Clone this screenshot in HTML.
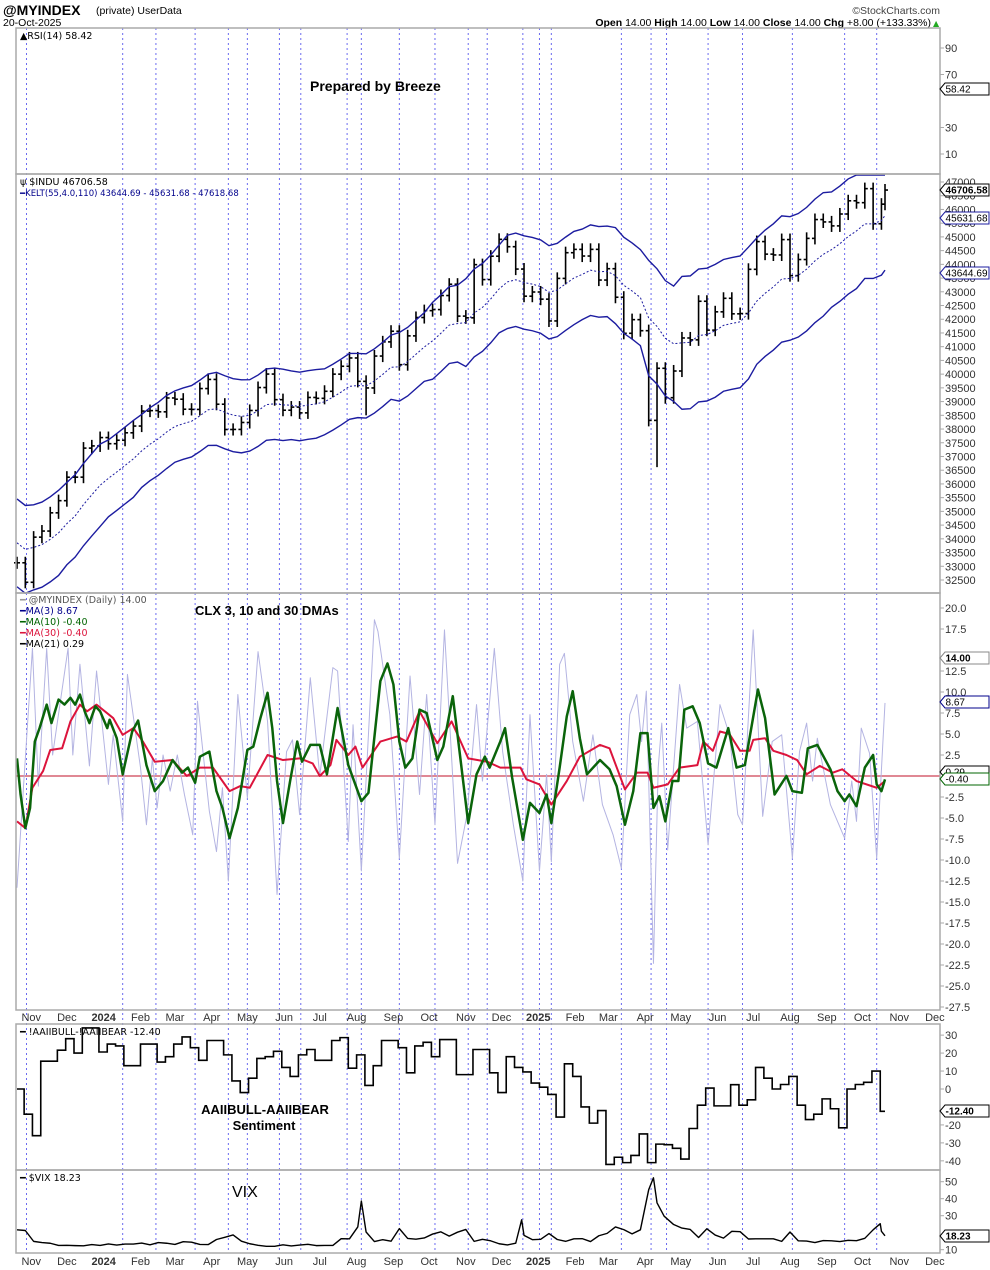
<!DOCTYPE html>
<html><head><meta charset="utf-8"><style>
html,body{margin:0;padding:0;background:#fff;}
svg{display:block;font-family:"DejaVu Sans","Liberation Sans",sans-serif;}
.ax{font-family:"Liberation Sans",sans-serif;font-size:11px;fill:#333;}
.tg{font-family:"Liberation Sans",sans-serif;font-size:10px;fill:#000;}
.lg{font-size:9.5px;}
</style></head><body>
<svg id="chart" width="990" height="1270" viewBox="0 0 990 1270" xmlns="http://www.w3.org/2000/svg">
<rect width="990" height="1270" fill="#fff"/>
<g>
<text x="3" y="15" font-family="Liberation Sans,sans-serif" font-size="14" font-weight="bold">@MYINDEX</text>
<text x="96" y="14" font-family="Liberation Sans,sans-serif" font-size="10.5">(private)  UserData</text>
<text x="3" y="26" font-family="Liberation Sans,sans-serif" font-size="10.5">20-Oct-2025</text>
<text x="940" y="14" text-anchor="end" font-family="Liberation Sans,sans-serif" font-size="10.5" fill="#444">©StockCharts.com</text>
<text x="931" y="26" text-anchor="end" font-family="Liberation Sans,sans-serif" font-size="10.5"><tspan font-weight="bold">Open</tspan> 14.00 <tspan font-weight="bold">High</tspan> 14.00 <tspan font-weight="bold">Low</tspan> 14.00 <tspan font-weight="bold">Close</tspan> 14.00 <tspan font-weight="bold">Chg</tspan> +8.00 (+133.33%)</text>
<text x="933" y="26" font-size="8" fill="#2a2">▲</text>
</g>
<g id="grid"></g>
<g id="marks"></g>
<g id="frames" fill="none" stroke="#aaa" stroke-width="1.5">
<rect x="16" y="28" width="924" height="146"/>
<rect x="16" y="174" width="924" height="419"/>
<rect x="16" y="593" width="924" height="417"/>
<rect x="16" y="1024" width="924" height="146"/>
<rect x="16" y="1170" width="924" height="83"/>
</g>
<g id="labels"></g>
<g font-family="Liberation Sans,sans-serif" font-weight="bold">
<text x="310" y="91" font-size="14">Prepared by Breeze</text>
<text x="195" y="615" font-size="13">CLX 3, 10 and 30 DMAs</text>
<text x="265" y="1114" font-size="13" text-anchor="middle">AAIIBULL-AAIIBEAR</text>
<text x="264" y="1130" font-size="13" text-anchor="middle">Sentiment</text>
<text x="232" y="1197" font-size="16" font-weight="normal">VIX</text>
</g>
<g class="lg">
<text x="20" y="39">▲RSI(14) 58.42</text>
<text x="20" y="185">ψ $INDU 46706.58</text>
<text x="20" y="196" font-size="8.5" fill="#00008b">━KELT(55,4.0,110) 43644.69 - 45631.68 - 47618.68</text>
<text x="20" y="603" fill="#555"><tspan fill="#999">━</tspan> @MYINDEX (Daily) 14.00</text>
<text x="20" y="614" fill="#00008b">━MA(3) 8.67</text>
<text x="20" y="625" fill="#006400">━MA(10) -0.40</text>
<text x="20" y="636" fill="#dc143c">━MA(30) -0.40</text>
<text x="20" y="647" fill="#000">━MA(21) 0.29</text>
<text x="20" y="1035">━ !AAIIBULL-!AAIIBEAR -12.40</text>
<text x="20" y="1181">━ $VIX 18.23</text>
</g>
<g id="tags"></g>
</svg>
<script>
// ---------- data ----------
const startDate = Date.UTC(2023, 9, 20);
const totalDays = 731;
const eventDays = [8,89,117,150,178,194,221,239,278,290,322,352,380,396,426,440,450,509,534,547,582,611,653,697,724];
const monthLabels = ["Nov","Dec","2024","Feb","Mar","Apr","May","Jun","Jul","Aug","Sep","Oct","Nov","Dec","2025","Feb","Mar","Apr","May","Jun","Jul","Aug","Sep","Oct","Nov","Dec"];
const monthStarts = ["2023-11-01","2023-12-01","2024-01-01","2024-02-01","2024-03-01","2024-04-01","2024-05-01","2024-06-01","2024-07-01","2024-08-01","2024-09-01","2024-10-01","2024-11-01","2024-12-01","2025-01-01","2025-02-01","2025-03-01","2025-04-01","2025-05-01","2025-06-01","2025-07-01","2025-08-01","2025-09-01","2025-10-01","2025-11-01","2025-12-01"];

const rsiTicks = [90,70,30,10];
const induTicks = [47000,46500,46000,45500,45000,44500,44000,43500,43000,42500,42000,41500,41000,40500,40000,39500,39000,38500,38000,37500,37000,36500,36000,35500,35000,34500,34000,33500,33000,32500];
const induWeeklyClose = [33127,32417,34061,34283,34947,35390,36245,36247,37305,37385,37689,
37466,37592,37863,38109,38654,38671,38627,39131,39087,38722,38714,39475,39807,38904,37983,37986,38239,38676,39512,40003,39070,38686,38799,38589,39150,39119,39375,40000,40287,40589,39737,39497,40659,41175,41563,40345,41394,42063,42313,42352,42864,43276,42114,42052,43989,43445,44297,44911,44643,43828,42840,42992,
42732,41938,43488,44424,44545,44303,44546,43428,43841,42802,41488,41985,41583,38315,40213,39142,40114,41317,41249,42655,41603,42270,42763,42197,42207,43819,44829,44372,44342,44902,43589,44176,44946,45632,45545,45401,45834,46315,46247,46758,45479,46191,46707];
const induLowWeek = [42, 77];
const induLowValue = [38499, 36612];
const keltHalfWidth = [1600,1550,1500,1400,1330,1300,1330,1300,1250,1200,1170,1250,1400,1600,1700,1700,1650,1750,2100,2420,2400,2300,2250,2100,1990];

const myTicks = [20,17.5,12.5,10,7.5,5,2.5,-2.5,-5,-7.5,-10,-12.5,-15,-17.5,-20,-22.5,-25,-27.5];
const rawDay = [0,13,18,25,30,43,47,53,61,67,77,81,89,93,104,109,114,118,123,129,135,141,148,152,162,168,173,178,186,194,203,211,219,227,232,238,247,255,266,270,279,283,290,301,304,314,322,331,339,345,352,360,371,379,387,392,402,409,418,426,432,440,446,450,457,461,468,477,485,493,502,509,516,522,526,530,536,540,543,548,558,564,573,582,592,600,607,611,620,628,636,644,653,659,665,670,674,685,697,703,707,711,718,724,731];
const rawVal = [-13.3,15.2,-1.2,15.2,2.5,15.2,2.5,13.3,1.2,12.5,-1,4.9,-5.4,12.1,1,-5.8,2.1,-3.8,2.5,-1.8,2.5,-2.2,-7,8.9,-4.2,-9,-1.4,-12.5,9.7,-2.6,14.8,6.5,-14.1,2.9,4.3,-4.6,11.7,0,12.9,12.5,-7.8,6.1,-11.3,18.6,17.2,7.3,-9.8,11.9,-2.2,9.7,-5.8,17.4,-10.4,-4.6,8.5,-0.6,15.2,2.9,-5.8,-12.5,7.3,-11.3,0.2,-10.2,13.3,14.6,4.1,-3,4.9,-3.4,-7,-11,7.3,9.7,4.1,10.1,-22.3,1,6.3,-8.8,10.9,5.7,6.5,-8.2,8.5,4.9,-4.6,-5.8,17.4,-4.8,4.1,4.9,-9.8,2.9,6.3,-0.6,4.5,-3.4,-7.4,-0.6,-5.4,5.7,2.7,-9.8,8.7];
const ma10Day = [0,3,7,11,15,19,25,29,35,40,45,49,53,57,61,66,70,76,78,84,89,97,102,109,116,123,131,139,144,150,154,162,168,173,179,186,194,199,205,211,215,219,224,230,236,240,247,255,261,270,279,290,296,306,312,317,322,327,333,339,345,354,359,367,371,380,387,394,398,407,411,417,426,432,440,446,450,457,463,468,474,480,491,499,505,512,519,525,531,536,541,546,552,557,562,569,575,582,589,599,606,613,624,630,638,648,653,661,666,674,685,691,697,701,707,714,721,724,728,731];
const ma10Val = [2.1,-2.2,-6.2,-3.8,4.1,5.7,8.5,6.3,9.1,8.5,9.3,8.5,9.7,7.7,6.3,8.3,7.7,5.7,6.7,4.5,0.2,5.3,6.6,1.3,-1.8,-0.6,1.9,0.4,1,-0.8,2.3,2.9,-1.8,-3.8,-7.4,-3.8,3.1,3.5,6.9,9.9,5.7,-0.6,-5.6,-0.6,4.1,1.7,3.7,3.7,0.2,8.1,1.3,-3,-2,11.3,13.4,10.9,4.1,1,2.1,7.9,7.5,1.9,3.5,9.5,4.9,-5.6,0.2,2.3,1,4.1,5.7,-0.2,-7.6,-3.2,-4.4,-2.2,-5.6,1,7.1,10.1,4.5,0.2,1.9,0.8,-1.2,-5.8,-1.8,5.1,5.1,-3.8,-2.4,-5.4,-0.6,-0.6,7.9,8.3,6.3,1.5,1,5.7,1,1.3,10.3,6.9,-2.2,0,-1.8,-2,3.3,3.7,0.8,-1.8,-3,-2.2,-3.6,1,2.5,-1,-1.8,-0.4];
const ma30Day = [0,7,13,22,28,38,45,53,59,67,81,89,98,106,116,131,143,154,165,179,188,196,211,224,238,249,255,264,269,279,285,291,306,320,328,339,354,366,380,396,407,424,429,440,450,463,474,491,499,512,522,531,536,548,558,573,578,586,592,600,609,617,620,630,637,648,657,665,676,687,695,707,724,731];
const ma30Val = [-5.4,-6.2,-1.4,0.6,3.1,3.3,6.5,8.5,7.7,8.5,6.9,4.9,5.7,4.1,1.7,1.9,0,1,1,-1.8,-1.2,-1.4,2.5,1.9,2.1,1.5,0,1.3,4.3,2.5,3.5,1,4.1,4.7,4.1,7.7,3.9,6.5,2.1,1.7,1,1,-0.4,-1,-3.4,-0.6,2.3,3.7,3.3,-1.6,0.4,0.4,-1.4,-1,1,1.3,4.1,3,5.3,5,3,3,4.3,4.5,3,2.5,1.9,0.2,1.2,0.4,0.8,-0.6,-1.4,-0.6];

const aaiiTicks = [30,20,10,0,-20,-30,-40];
const aaiiVal = [0,-14,-26,15.5,15.5,21.6,28,20,34,34,20.6,25,24,13,13,25,25,15,18,25,29,23,16,27,27,19,4.5,-2,6,17,18,21,12,7,19,22,16,16,27,28.6,11.6,19,2,13,27,27,23,9,24,26,18,27.5,27.5,8,8,22,22,9,-2,18,12,9.5,3.3,1,-3,-15.6,14,7,-10,-19,-12,-42,-38,-41,-37,-25,-41,-30.7,-31,-33,-39,-22,-9,0.5,-9.4,-9.4,2.4,-9,-6,12,6,0,2.5,7,-9,-17,-14,-5.5,-11,-21.6,0,2.5,3.7,10,-12.4];

const vixTicks = [50,40,30,10];
const vixDate = ["2023-10-20","2023-10-27","2023-11-03","2023-11-10","2023-11-17","2023-11-24","2023-12-01","2023-12-08","2023-12-15","2023-12-22","2023-12-29","2024-01-05","2024-01-12","2024-01-19","2024-01-26","2024-02-02","2024-02-09","2024-02-16","2024-02-23","2024-03-01","2024-03-08","2024-03-15","2024-03-22","2024-03-29","2024-04-05","2024-04-12","2024-04-19","2024-04-26","2024-05-03","2024-05-10","2024-05-17","2024-05-24","2024-05-31","2024-06-07","2024-06-14","2024-06-21","2024-06-28","2024-07-05","2024-07-12","2024-07-19","2024-07-26","2024-08-02","2024-08-05","2024-08-09","2024-08-16","2024-08-23","2024-08-30","2024-09-06","2024-09-13","2024-09-20","2024-09-27","2024-10-04","2024-10-11","2024-10-18","2024-10-25","2024-11-01","2024-11-08","2024-11-15","2024-11-22","2024-11-29","2024-12-06","2024-12-13","2024-12-18","2024-12-20","2024-12-27","2025-01-03","2025-01-10","2025-01-17","2025-01-24","2025-01-31","2025-02-07","2025-02-14","2025-02-21","2025-02-28","2025-03-07","2025-03-14","2025-03-21","2025-03-28","2025-04-04","2025-04-08","2025-04-11","2025-04-17","2025-04-25","2025-05-02","2025-05-09","2025-05-16","2025-05-23","2025-05-30","2025-06-06","2025-06-13","2025-06-20","2025-06-27","2025-07-03","2025-07-11","2025-07-18","2025-07-25","2025-08-01","2025-08-08","2025-08-15","2025-08-22","2025-08-29","2025-09-05","2025-09-12","2025-09-19","2025-09-26","2025-10-03","2025-10-10","2025-10-16","2025-10-17","2025-10-20"];
const vixVal = [21.7,21.3,14.9,14.2,13.8,12.5,12.6,12.4,12.3,13,12.5,13.4,12.7,13.3,13.3,13.9,12.9,14.2,13.8,13.1,14.7,14.4,13.1,13,16,17.3,18.7,15,13.5,12.6,12,12,12.9,12.2,12.7,13.2,12.4,12.5,12.5,16.5,16.4,23.4,38.6,20.4,14.8,15.9,15,22.4,16.6,16.2,16.9,19.2,20.5,18,20.3,21.9,14.9,16.1,15.2,13.5,12.8,13.8,27.6,18.4,15.9,16.1,19.5,16,14.9,16.4,16.5,14.8,18.2,19.6,23.4,21.8,19.3,21.7,45.3,52.3,37.6,29.7,24.8,22.7,21.9,17.2,22.3,18.6,16.8,20.8,20.6,16.3,16.4,16.4,16.4,14.9,20.4,15.2,15.1,14.2,15.4,15.2,14.8,15.5,15.3,16.7,21.7,25.3,20.8,18.2];

// ---------- scales ----------
const NS = "http://www.w3.org/2000/svg";
const xD = d => 17 + d * (868 / totalDays);
const dayOf = s => (Date.parse(s + "T00:00:00Z") - startDate) / 86400000;
const yR = v => 101 - (v - 50) * 1.325;
const yI = v => 182 + (47000 - v) * 398 / 14500;
const yM = v => 776 - v * 8.4;
const yA = v => 1089 - v * 1.796;
const yV = v => 1181.7 + (50 - v) * 1.7;
function mk(tag, attrs, parent) {
  const e = document.createElementNS(NS, tag);
  for (const k in attrs) e.setAttribute(k, attrs[k]);
  parent.appendChild(e);
  return e;
}
const grid = document.getElementById("grid");
const marks = document.getElementById("marks");
const labels = document.getElementById("labels");
const tags = document.getElementById("tags");

eventDays.forEach(d => {
  const l = mk("line", {x1: xD(d), x2: xD(d), y1: 28, y2: 1253, stroke: "#6b6bf0", "stroke-width": 1, "stroke-dasharray": "2,3"}, grid);
  
  
});
monthLabels.forEach((m, i) => {
  const x = xD(dayOf(monthStarts[i]));
  [1021, 1265].forEach(y => {
    const t = mk("text", {x: x, y: y, "text-anchor": "middle", class: "ax", "font-weight": /^\d/.test(m) ? "bold" : "normal"}, labels);
    t.textContent = m;
    
    
  });
});
function yLabels(ticks, fy, fmt) {
  ticks.forEach(v => {
    mk("line", {x1: 940, x2: 944, y1: fy(v), y2: fy(v), stroke: "#aaa"}, labels);
    const t = mk("text", {x: 945, y: fy(v) + 4, class: "ax"}, labels);
    t.textContent = fmt(v);
    
    
  });
}
yLabels(rsiTicks, yR, v => String(v));
yLabels(induTicks, yI, v => String(v));
yLabels(myTicks, yM, v => v.toFixed(1));
yLabels(aaiiTicks, yA, v => String(v));
yLabels(vixTicks, yV, v => String(v));

// ---------- INDU bars + Keltner ----------
let ema = 34000;
const midPts = [], upPts = [], loPts = [];
induWeeklyClose.forEach((c, k) => {
  const d = k < 105 ? k * 7 : totalDays;
  const x = xD(d);
  const o = k > 0 ? induWeeklyClose[k - 1] : c;
  let hi = Math.max(o, c) + 220, lo = Math.min(o, c) - 220;
  const li = induLowWeek.indexOf(k);
  if (li >= 0) lo = induLowValue[li];
  const g = mk("g", {stroke: "#000", "stroke-width": 1.6}, marks);
  
  
  mk("line", {x1: x, x2: x, y1: yI(hi), y2: yI(lo)}, g);
  mk("line", {x1: x - 3, x2: x, y1: yI(o), y2: yI(o)}, g);
  mk("line", {x1: x, x2: x + 3, y1: yI(c), y2: yI(c)}, g);
  ema = ema + (c - ema) * (2 / 12);
  const dt = new Date(startDate + d * 86400000);
  const mi = Math.min(keltHalfWidth.length - 1, (dt.getUTCFullYear() - 2023) * 12 + dt.getUTCMonth() - 9);
  const hw = keltHalfWidth[mi];
  midPts.push(x + "," + yI(ema));
  upPts.push(x + "," + Math.max(175, yI(ema + hw)));
  loPts.push(x + "," + yI(ema - hw));
});
[[upPts, "kelt-upper", ""], [midPts, "kelt-middle", "2,2"], [loPts, "kelt-lower", ""]].forEach(([p, n, dash]) => {
  const pl = mk("polyline", {points: p.join(" "), fill: "none", stroke: "#1c1ca0", "stroke-width": dash ? 1 : 1.4, "stroke-dasharray": dash}, marks);
  
  
});

// ---------- MYINDEX ----------
const zl = mk("line", {x1: 16, x2: 940, y1: yM(0), y2: yM(0), stroke: "#c0102a", "stroke-width": 1}, marks);


function line(days, vals, fy, attrs, name) {
  const pts = days.map((d, i) => xD(d) + "," + fy(vals[i])).join(" ");
  const pl = mk("polyline", Object.assign({points: pts, fill: "none", "stroke-linejoin": "round"}, attrs), marks);
  
  
}
line(rawDay, rawVal, yM, {stroke: "#b4b4e2", "stroke-width": 1}, "myindex-raw-line");
line(ma30Day, ma30Val, yM, {stroke: "#dc143c", "stroke-width": 2}, "ma30-line");
line(ma10Day, ma10Val, yM, {stroke: "#0a640a", "stroke-width": 2.5}, "ma10-line");

// ---------- AAII step ----------
{
  let p = [];
  aaiiVal.forEach((v, k) => {
    const x0 = xD(Math.max(0, k * 7 - 1));
    const x1 = xD(Math.min(totalDays, k * 7 + 6));
    const y = Math.max(1026, yA(v));
    p.push(x0 + "," + y, x1 + "," + y);
  });
  const pl = mk("polyline", {points: p.join(" "), fill: "none", stroke: "#000", "stroke-width": 1.6}, marks);
  
  
}
// ---------- VIX ----------
line(vixDate.map(dayOf), vixVal, yV, {stroke: "#000", "stroke-width": 1.4}, "vix-line");

// ---------- value tags ----------
function tag(y, text, color, bold, name) {
  const g = mk("g", {}, tags);
  
  
  mk("path", {d: `M940 ${y} L945 ${y-6} L989 ${y-6} L989 ${y+6} L945 ${y+6} Z`, fill: "#fff", stroke: color, "stroke-width": 1}, g);
  const t = mk("text", {x: 945.5, y: y + 3.5, class: "tg", "font-weight": bold ? "bold" : "normal", textLength: text.length > 6 ? 42 : null}, g);
  if (text.length <= 6) t.removeAttribute("textLength");
  t.textContent = text;
}
tag(89, "58.42", "#000", false, "rsi-value-tag");
tag(190, "46706.58", "#000", true, "indu-value-tag");
tag(218, "45631.68", "#1c1ca0", false, "kelt-mid-tag");
tag(273, "43644.69", "#1c1ca0", false, "kelt-lower-tag");
tag(658, "14.00", "#888", true, "myindex-value-tag");
tag(702, "8.67", "#00008b", false, "ma3-value-tag");
tag(772, "0.29", "#000", false, "ma21-value-tag");
tag(779, "-0.40", "#006400", false, "ma10-value-tag");
tag(1111, "-12.40", "#000", true, "aaii-value-tag");
tag(1236, "18.23", "#000", true, "vix-value-tag");
</script>
</body></html>
